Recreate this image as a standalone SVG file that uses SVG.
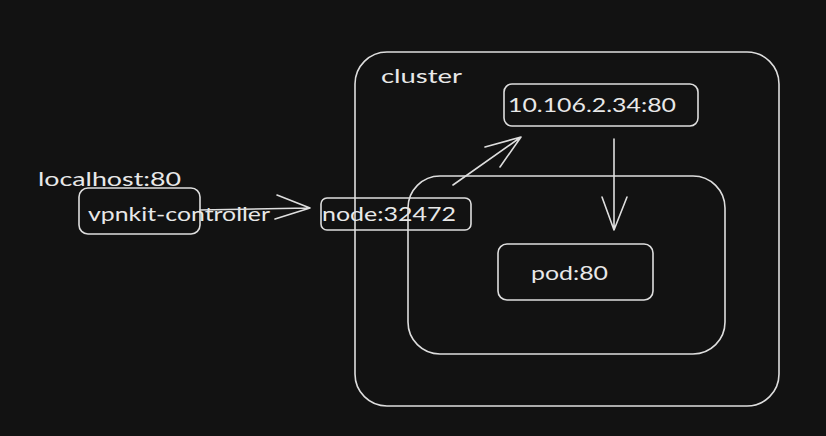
<svg xmlns="http://www.w3.org/2000/svg" width="826" height="436" viewBox="0 0 826 436">
<defs>
<style>
.bg{fill:#121212}
.box{fill:none;stroke:#dedede;stroke-width:1.6;stroke-linecap:round;stroke-linejoin:round}
.ln{fill:none;stroke:#dedede;stroke-width:1.6;stroke-linecap:round;stroke-linejoin:round}
.t{fill:#e8e8e8;font-family:"Lato","Open Sans","Liberation Sans",sans-serif;font-size:20px}
</style>
</defs>
<rect class="bg" x="0" y="0" width="826" height="436"/>
<g id="cluster">
<rect class="box" x="355" y="52" width="424" height="354" rx="32"/>
<text class="t" x="381" y="83" textLength="81" lengthAdjust="spacingAndGlyphs">cluster</text>
</g>
<g id="node-group">
<rect class="box" x="408" y="176" width="317" height="178" rx="32"/>
</g>
<g id="service">
<rect class="box" x="504" y="84" width="194" height="42" rx="8"/>
<text class="t" x="508" y="112" textLength="168" lengthAdjust="spacingAndGlyphs">10.106.2.34:80</text>
</g>
<g id="pod">
<rect class="box" x="498" y="244" width="155" height="56" rx="9"/>
<text class="t" x="531" y="280" textLength="77" lengthAdjust="spacingAndGlyphs">pod:80</text>
</g>
<g id="node">
<rect class="box" x="321" y="198" width="150" height="32" rx="6"/>
<text class="t" x="322" y="221" textLength="134" lengthAdjust="spacingAndGlyphs">node:32472</text>
</g>
<g id="localhost">
<text class="t" x="38" y="186" textLength="143" lengthAdjust="spacingAndGlyphs">localhost:80</text>
</g>
<g id="vpnkit">
<rect class="box" x="79" y="188" width="121" height="46" rx="9"/>
<text class="t" x="88" y="221" textLength="182" lengthAdjust="spacingAndGlyphs">vpnkit-controller</text>
</g>
<g id="connectors">
<path class="ln" d="M200 210 L309 208 M277 195 L310 208 L275 219"/>
<path class="ln" d="M453 185 L521 137 M485 147 L521 137 L500 167"/>
<path class="ln" d="M614 139 L614 230 M602 197 L614 230 L627 197"/>
</g>
</svg>
